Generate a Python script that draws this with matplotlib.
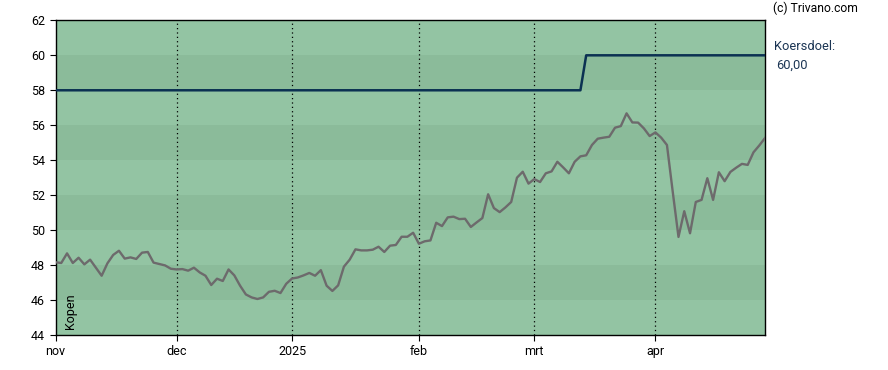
import numpy as np
import pandas as pd
import matplotlib
matplotlib.use("Agg")
import matplotlib.pyplot as plt

# Trading days nov 2024 - apr 2025 (Euronext holidays removed)
holidays = ["2024-12-25", "2024-12-26", "2025-01-01", "2025-04-18", "2025-04-21"]
days = pd.bdate_range("2024-11-01", "2025-04-30")
days = days[~days.isin(pd.to_datetime(holidays))]

# Closing prices
price = [48.16, 48.12, 48.67, 48.12, 48.42, 48.04, 48.31, 47.85, 47.39, 48.10,
         48.58, 48.82, 48.37, 48.44, 48.35, 48.71, 48.75, 48.14, 48.06, 47.98,
         47.79, 47.75, 47.77, 47.68, 47.85, 47.58, 47.39, 46.86, 47.22, 47.09,
         47.75, 47.41, 46.82, 46.32, 46.15, 46.06, 46.15, 46.47, 46.53, 46.40,
         46.93, 47.23, 47.29, 47.41, 47.55, 47.39, 47.71, 46.82, 46.52, 46.84,
         47.91, 48.31, 48.90, 48.84, 48.84, 48.88, 49.05, 48.75, 49.11, 49.15,
         49.62, 49.62, 49.85, 49.22, 49.36, 49.41, 50.42, 50.23, 50.73, 50.77,
         50.63, 50.65, 50.18, 50.44, 50.69, 52.05, 51.26, 51.03, 51.30, 51.61,
         53.00, 53.34, 52.66, 52.92, 52.75, 53.25, 53.36, 53.91, 53.59, 53.25,
         53.91, 54.22, 54.28, 54.87, 55.23, 55.29, 55.34, 55.86, 55.95, 56.68,
         56.16, 56.15, 55.82, 55.38, 55.59, 55.29, 54.87, 52.20, 49.61, 51.08,
         49.82, 51.61, 51.73, 52.97, 51.73, 53.31, 52.80, 53.33, 53.57, 53.79,
         53.73, 54.45, 54.84, 55.27]

# Koersdoel (target price): 58 until 13 mar, 60 after
target = [58.0] * 92 + [60.0] * 32

month_labels = ["nov", "dec", "2025", "feb", "mrt", "apr"]

x = np.arange(len(days))
month_start = [0] + [i for i in range(1, len(days)) if days[i].month != days[i - 1].month]

plt.rcParams['font.family'] = ['Roboto', 'DejaVu Sans']

fig = plt.figure(figsize=(8.88, 3.70), dpi=100)
ax = fig.add_axes([0.0625, 0.0946, 0.799, 0.8504])

# alternating bands every 2 (lightest at the bottom and top)
for lo in range(44, 62, 2):
    col = '#93c4a3' if (lo // 2) % 2 == 0 else '#8bbb9a'
    ax.axhspan(lo, lo + 2, color=col, lw=0, zorder=0)

for m in month_start[1:]:
    ax.axvline(m, color='black', ls=(0, (1, 2.5)), lw=0.9, zorder=1)

ax.plot(x, target, color='#0b3152', lw=1.8, zorder=3)
ax.plot(x, price, color='#6d6a6c', lw=1.7, zorder=4)

ax.set_xlim(0, len(days) - 1)
ax.set_ylim(44, 62)
ax.set_yticks(range(44, 63, 2))
ax.set_xticks(month_start)
ax.set_xticklabels(month_labels)
ax.tick_params(axis='both', labelsize=9, length=4, width=0.8, colors='black')
for s in ax.spines.values():
    s.set_linewidth(1.0)

ax.text(0.012, 0.02, "Kopen", rotation=90, transform=ax.transAxes,
        fontsize=9, va='bottom', ha='left')

fig.text(773 / 888, 1 - 8 / 370, "(c) Trivano.com", fontsize=8.7, va='center', ha='left')
fig.text(774 / 888, 1 - 46 / 370, "Koersdoel:", fontsize=9.3, va='center', ha='left', color='#1b3554')
fig.text(776 / 888, 1 - 65 / 370, "60,00", fontsize=9.3, va='center', ha='left', color='#1b3554')

fig.savefig("out.png", dpi=100)
